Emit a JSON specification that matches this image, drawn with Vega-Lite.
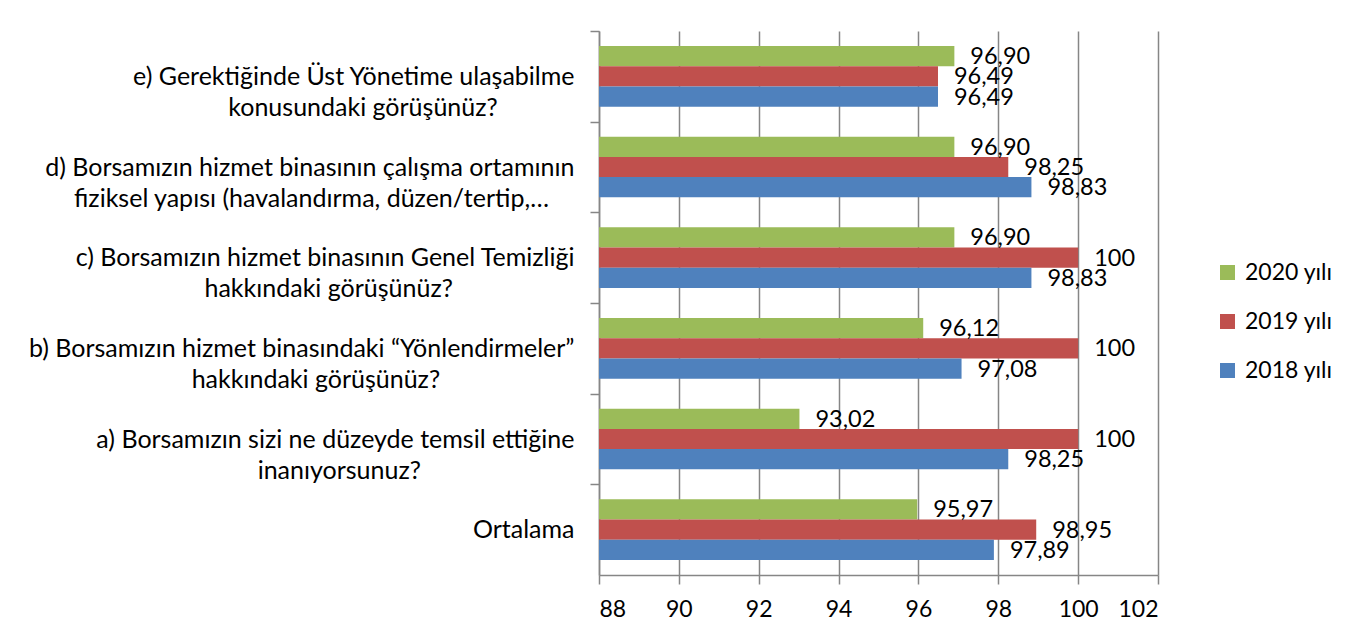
{
  "$schema": "https://vega.github.io/schema/vega-lite/v6.json",
  "autosize": "none",
  "width": 559,
  "height": 544,
  "padding": {"left": 599, "top": 31, "right": 201, "bottom": 68},
  "background": "white",
  "config": {
    "font": "Lato",
    "view": {"stroke": null},
    "axis": {"labelColor": "#000000", "labelFont": "Lato", "labelFontSize": 23, "domainColor": "#868686", "domainWidth": 1.5, "tickColor": "#868686", "tickWidth": 1.5, "tickSize": 9}
  },
  "data": {
    "values": [
      {"q": "e", "year": "2020 yılı", "value": 96.90, "label": "96,90"},
      {"q": "e", "year": "2019 yılı", "value": 96.49, "label": "96,49"},
      {"q": "e", "year": "2018 yılı", "value": 96.49, "label": "96,49"},
      {"q": "d", "year": "2020 yılı", "value": 96.90, "label": "96,90"},
      {"q": "d", "year": "2019 yılı", "value": 98.25, "label": "98,25"},
      {"q": "d", "year": "2018 yılı", "value": 98.83, "label": "98,83"},
      {"q": "c", "year": "2020 yılı", "value": 96.90, "label": "96,90"},
      {"q": "c", "year": "2019 yılı", "value": 100, "label": "100"},
      {"q": "c", "year": "2018 yılı", "value": 98.83, "label": "98,83"},
      {"q": "b", "year": "2020 yılı", "value": 96.12, "label": "96,12"},
      {"q": "b", "year": "2019 yılı", "value": 100, "label": "100"},
      {"q": "b", "year": "2018 yılı", "value": 97.08, "label": "97,08"},
      {"q": "a", "year": "2020 yılı", "value": 93.02, "label": "93,02"},
      {"q": "a", "year": "2019 yılı", "value": 100, "label": "100"},
      {"q": "a", "year": "2018 yılı", "value": 98.25, "label": "98,25"},
      {"q": "ort", "year": "2020 yılı", "value": 95.97, "label": "95,97"},
      {"q": "ort", "year": "2019 yılı", "value": 98.95, "label": "98,95"},
      {"q": "ort", "year": "2018 yılı", "value": 97.89, "label": "97,89"}
    ]
  },
  "encoding": {
    "y": {
      "field": "q",
      "type": "nominal",
      "sort": ["e", "d", "c", "b", "a", "ort"],
      "scale": {"paddingInner": 0.33, "paddingOuter": 0.165},
      "axis": {
        "title": null,
        "labelLimit": 0,
        "labelFontSize": 25,
        "labelPadding": 16,
        "labelLineHeight": 31,
        "tickOffset": -45.33,
        "labelOffset": 45.33,
        "labelExpr": "{'e': ['e) Gerektiğinde Üst Yönetime ulaşabilme', 'konusundaki görüşünüz?\u00a0\u00a0\u00a0\u00a0\u00a0\u00a0\u00a0\u00a0\u00a0\u00a0\u00a0\u00a0\u2060'], 'd': ['d) Borsamızın hizmet binasının çalışma ortamının', 'fiziksel yapısı (havalandırma, düzen/tertip,…\u00a0\u00a0\u00a0\u00a0\u2060'], 'c': ['c) Borsamızın hizmet binasının Genel Temizliği', 'hakkındaki görüşünüz?\u00a0\u00a0\u00a0\u00a0\u00a0\u00a0\u00a0\u00a0\u00a0\u00a0\u00a0\u00a0\u00a0\u00a0\u00a0\u00a0\u00a0\u00a0\u00a0\u2060'], 'b': ['b) Borsamızın hizmet binasındaki “Yönlendirmeler”', 'hakkındaki görüşünüz?\u00a0\u00a0\u00a0\u00a0\u00a0\u00a0\u00a0\u00a0\u00a0\u00a0\u00a0\u00a0\u00a0\u00a0\u00a0\u00a0\u00a0\u00a0\u00a0\u00a0\u00a0\u2060'], 'a': ['a) Borsamızın sizi ne düzeyde temsil ettiğine', 'inanıyorsunuz?\u00a0\u00a0\u00a0\u00a0\u00a0\u00a0\u00a0\u00a0\u00a0\u00a0\u00a0\u00a0\u00a0\u00a0\u00a0\u00a0\u00a0\u00a0\u00a0\u00a0\u00a0\u00a0\u00a0\u00a0\u2060'], 'ort': 'Ortalama'}[datum.value]"
      }
    },
    "yOffset": {
      "field": "year",
      "type": "nominal",
      "sort": ["2020 yılı", "2019 yılı", "2018 yılı"],
      "scale": {"paddingInner": 0, "paddingOuter": 0}
    }
  },
  "layer": [
    {
      "mark": {"type": "bar"},
      "encoding": {
        "x": {
          "field": "value",
          "type": "quantitative",
          "scale": {"domain": [88, 102], "nice": false, "zero": false},
          "axis": {
            "title": null,
            "values": [88, 90, 92, 94, 96, 98, 100, 102],
            "grid": true,
            "gridColor": "#868686",
            "gridWidth": 1.5,
            "labelPadding": 14
          }
        },
        "x2": {"datum": 88},
        "color": {
          "field": "year",
          "type": "nominal",
          "scale": {"domain": ["2020 yılı", "2019 yılı", "2018 yılı"], "range": ["#9BBB59", "#C0504D", "#4F81BD"]},
          "legend": {
            "title": null,
            "orient": "none",
            "legendX": 617,
            "legendY": 230,
            "symbolType": "square",
            "symbolSize": 225,
            "symbolStrokeWidth": 0,
            "labelFontSize": 23,
            "labelFont": "Lato",
            "labelColor": "#000000",
            "labelOffset": 6,
            "rowPadding": 25
          }
        }
      }
    },
    {
      "mark": {"type": "text", "align": "left", "baseline": "middle", "dx": 16, "dy": 1, "fontSize": 23.5, "font": "Lato", "color": "#000000"},
      "encoding": {
        "x": {"field": "value", "type": "quantitative"},
        "text": {"field": "label"}
      }
    }
  ]
}
